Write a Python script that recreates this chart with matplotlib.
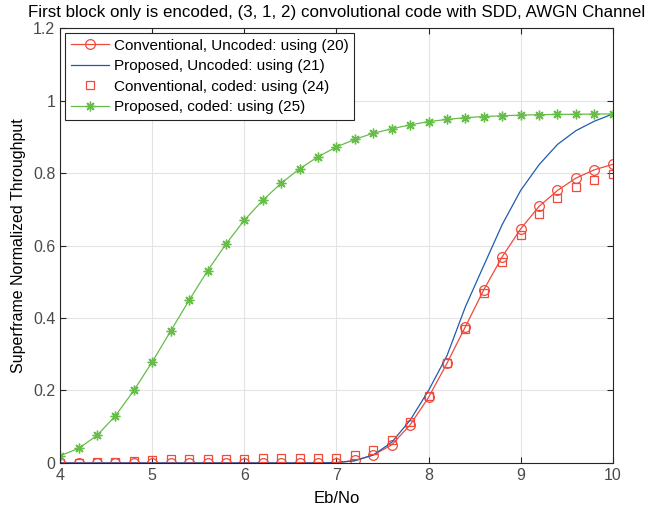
import numpy as np
import matplotlib
matplotlib.use('Agg')
import matplotlib.pyplot as plt

plt.rcParams['font.family'] = ['Liberation Sans', 'DejaVu Sans']

ebno = [4.0, 4.2, 4.4, 4.6, 4.8, 5.0, 5.2, 5.4, 5.6, 5.8, 6.0, 6.2, 6.4, 6.6, 6.8, 7.0,
        7.2, 7.4, 7.6, 7.8, 8.0, 8.2, 8.4, 8.6, 8.8, 9.0, 9.2, 9.4, 9.6, 9.8, 10.0]

conv_uncoded = [0.0, 0.0, 0.0, 0.0, 0.0, 0.0, 0.0, 0.0, 0.0, 0.0, 0.0, 0.0, 0.0, 0.0, 0.0, 0.001,
                0.007, 0.022, 0.05, 0.105, 0.181, 0.275, 0.376, 0.478, 0.569, 0.646,
                0.708, 0.752, 0.786, 0.809, 0.824]

prop_uncoded = [0.0, 0.0, 0.0, 0.0, 0.0, 0.0, 0.0, 0.0, 0.0, 0.0, 0.0, 0.0, 0.0, 0.0, 0.0, 0.001,
                0.006, 0.022, 0.057, 0.118, 0.2, 0.296, 0.431, 0.545, 0.658, 0.752,
                0.823, 0.879, 0.917, 0.943, 0.963]

conv_coded = [0.0, 0.0, 0.002, 0.004, 0.006, 0.009, 0.01, 0.011, 0.012, 0.012, 0.012, 0.013,
              0.013, 0.013, 0.013, 0.014, 0.022, 0.036, 0.063, 0.114, 0.185, 0.275, 0.371,
              0.468, 0.555, 0.629, 0.687, 0.73, 0.762, 0.782, 0.798]

prop_coded = [0.02, 0.04, 0.076, 0.13, 0.2, 0.279, 0.364, 0.449, 0.53, 0.604, 0.67, 0.725,
              0.772, 0.812, 0.845, 0.872, 0.893, 0.91, 0.922, 0.933, 0.942, 0.948, 0.953,
              0.956, 0.958, 0.96, 0.961, 0.962, 0.962, 0.963, 0.963]

red = '#EF4A3C'
blue = '#1F5CAE'
green = '#66BD48'
dark = '#262626'

fig = plt.figure(figsize=(6.61, 5.11), dpi=100)
ax = fig.add_axes([0.091, 0.094, 0.836, 0.851])

ax.plot(ebno, conv_uncoded, color=red, lw=0.9, marker='o', ms=7, mfc='none', mew=0.9,
        label='Conventional, Uncoded: using (20)')
ax.plot(ebno, prop_uncoded, color=blue, lw=0.9, label='Proposed, Uncoded: using (21)')
ax.plot(ebno, conv_coded, color=red, ls='none', marker='s', ms=6, mfc='none', mew=0.9,
        label='Conventional, coded: using (24)')
ax.plot(ebno, prop_coded, color=green, lw=0.9, marker=(8, 2, 0), ms=7, mew=1.0,
        label='Proposed, coded: using (25)')

ax.set_xlim(4, 10)
ax.set_ylim(0, 1.2)
ax.set_xticks([4, 5, 6, 7, 8, 9, 10])
ax.set_yticks([0, 0.2, 0.4, 0.6, 0.8, 1.0, 1.2])
ax.set_yticklabels(['0', '0.2', '0.4', '0.6', '0.8', '1', '1.2'])
ax.grid(True, color='#e3e3e3', lw=0.8)
ax.set_axisbelow(True)
ax.tick_params(direction='in', top=True, right=True, labelsize=11.5, colors=dark,
               labelcolor='#4a4a4a', length=4)
for s in ax.spines.values():
    s.set_color(dark)
    s.set_linewidth(0.8)

ax.set_title('First block only is encoded, (3, 1, 2) convolutional code with SDD, AWGN Channel',
             fontsize=12.2, pad=8)
ax.set_xlabel('Eb/No', fontsize=12, labelpad=6)
ax.set_ylabel('Superframe Normalized Throughput', fontsize=11.5, labelpad=5)

leg = ax.legend(loc='upper left', fontsize=11, fancybox=False, framealpha=1,
                edgecolor=dark, borderaxespad=0.3, handlelength=2.5,
                labelspacing=0.42, borderpad=0.4, handletextpad=0.3)
leg.get_frame().set_linewidth(0.8)

fig.savefig('out.png', dpi=100)
